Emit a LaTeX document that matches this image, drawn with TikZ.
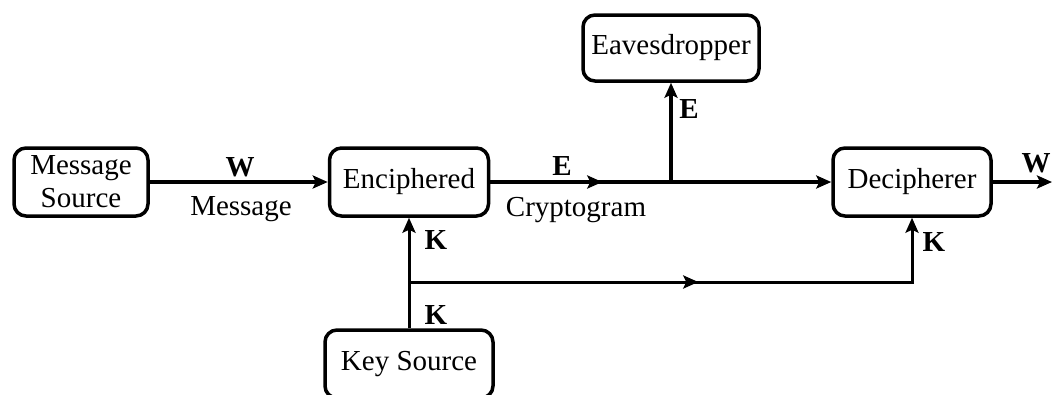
\documentclass[tikz,border=0pt]{standalone}
\usepackage{fontspec}
\setmainfont{Liberation Serif}
\usetikzlibrary{arrows.meta,decorations.markings}

\begin{document}
\begin{tikzpicture}[x=1pt,y=-1pt,
    font=\fontsize{29}{33}\selectfont,
    stage/.style={draw,line width=3.5pt,rounded corners=12pt,minimum height=68pt,align=center,inner sep=0pt},
    link/.style={line width=3.5pt},
    tip/.style={-{Stealth[length=15pt,width=13pt,inset=3pt]}},
    midtip/.style={postaction={decorate},decoration={markings,mark=at position #1 with {\arrow{Stealth[length=15pt,width=13pt,inset=3pt]}}}},
    lab/.style={font=\fontsize{29}{33}\selectfont\bfseries}]
    \useasboundingbox (0,0) rectangle (1054,394);
    \node[stage,minimum width=134pt] (msg) at (81,182) {Message\\Source};
    \node[stage,minimum width=159pt] (enc) at (409,182) {Enciphered};
    \node[stage,minimum width=176pt,minimum height=66pt] (eve) at (671,48) {Eavesdropper};
    \node[stage,minimum width=158pt] (dec) at (912,182) {Decipherer};
    \node[stage,minimum width=168pt] (key) at (409,364) {Key Source};
    \coordinate (tap) at (eve.south |- enc.east);
    \coordinate (split) at (409,282);
    \coordinate (out) at (1052,182);

    \draw[link,tip] (msg) -- (enc);
    \draw[link,midtip=0.62] (enc) -- (tap);
    \draw[link,tip] (tap) -- (dec);
    \draw[link,tip] (tap) -- (eve);
    \draw[link,tip] (dec) -- (out);
    \draw[link,tip,line width=3pt] (key) -- (enc);
    \draw[link,line width=3pt,midtip=0.51,tip] (split) -| (dec);

    \node[lab] (w1) at (240,167) {W};
    \node (m1) at (241,209) {Message};
    \node[lab] (e1) at (562,166) {E};
    \node (c1) at (576,210) {Cryptogram};
    \node[lab] (e2) at (689,109) {E};
    \node[lab] (w2) at (1036,163) {W};
    \node[lab] (k1) at (436,240) {K};
    \node[lab] (k2) at (436,315) {K};
    \node[lab] (k3) at (934,242) {K};
\end{tikzpicture}
\end{document}
